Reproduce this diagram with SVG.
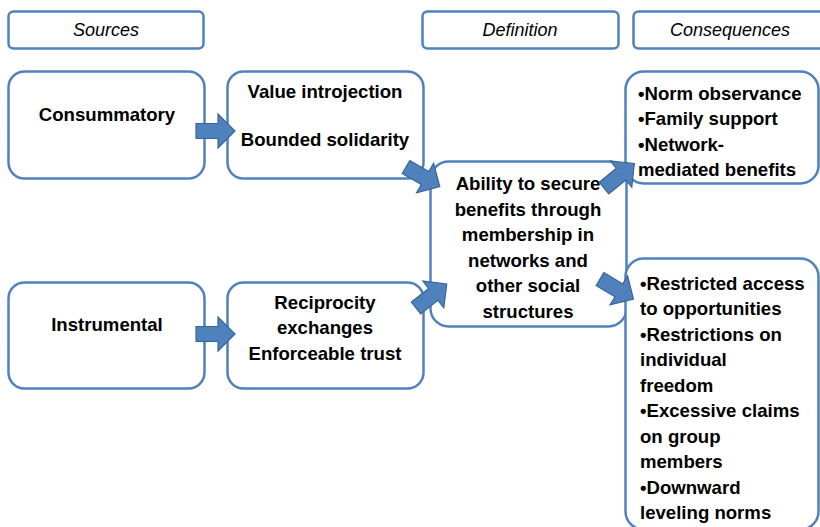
<svg xmlns="http://www.w3.org/2000/svg" width="820" height="527" viewBox="0 0 820 527">
<style>
.box{fill:#fff;stroke:#4f81bd;stroke-width:2.5}
.t{font-family:"Liberation Sans",Arial,sans-serif;font-size:18.6px;font-weight:bold;fill:#000}
.h{font-family:"Liberation Sans",Arial,sans-serif;font-size:18px;font-style:italic;fill:#000}
.arr{fill:#4f81bd;stroke:#3a659a;stroke-width:1.2}
</style>
<defs>
<path id="ba" d="M0,-7.5 L22,-7.5 L22,-17 L39,0 L22,17 L22,7.5 L0,7.5 Z"/>
</defs>
<g id="hdr-sources"><rect class="box" x="8.5" y="11.5" width="195" height="37" rx="5"/><text class="h" x="106" y="36" text-anchor="middle">Sources</text></g>
<g id="hdr-definition"><rect class="box" x="422.5" y="11.5" width="196" height="37" rx="5"/><text class="h" x="520" y="36" text-anchor="middle">Definition</text></g>
<g id="hdr-consequences"><rect class="box" x="633.5" y="11.5" width="200" height="37" rx="5"/><text class="h" x="730" y="36" text-anchor="middle">Consequences</text></g>
<g id="consummatory"><rect class="box" x="8.5" y="71.5" width="196" height="107" rx="16"/><text class="t" x="107" y="121" text-anchor="middle">Consummatory</text></g>
<g id="value"><rect class="box" x="227.5" y="71.5" width="196" height="107" rx="16"/><text class="t" x="325" y="98" text-anchor="middle">Value introjection</text><text class="t" x="325" y="146" text-anchor="middle">Bounded solidarity</text></g>
<g id="instrumental"><rect class="box" x="8.5" y="282.5" width="196" height="106" rx="16"/><text class="t" x="107" y="331" text-anchor="middle">Instrumental</text></g>
<g id="reciprocity"><rect class="box" x="227.5" y="282.5" width="196" height="106" rx="16"/><text class="t" x="325" y="309" text-anchor="middle">Reciprocity</text><text class="t" x="325" y="334" text-anchor="middle">exchanges</text><text class="t" x="325" y="360" text-anchor="middle">Enforceable trust</text></g>
<g id="definition"><rect class="box" x="430.5" y="161.5" width="196" height="165" rx="18"/>
<text class="t" x="528" text-anchor="middle"><tspan x="528" y="190">Ability to secure</tspan><tspan x="528" y="216">benefits through</tspan><tspan x="528" y="241">membership in</tspan><tspan x="528" y="267">networks and</tspan><tspan x="528" y="292">other social</tspan><tspan x="528" y="318">structures</tspan></text></g>
<g id="positive"><rect class="box" x="625.5" y="71.5" width="193" height="112" rx="18"/>
<text class="t"><tspan x="638" y="100">•Norm observance</tspan><tspan x="638" y="125">•Family support</tspan><tspan x="638" y="151">•Network-</tspan><tspan x="638" y="176">mediated benefits</tspan></text></g>
<g id="negative"><rect class="box" x="625.5" y="258.5" width="193" height="271" rx="18"/>
<text class="t"><tspan x="640" y="290">•Restricted access</tspan><tspan x="640" y="315">to opportunities</tspan><tspan x="640" y="341">•Restrictions on</tspan><tspan x="640" y="366">individual</tspan><tspan x="640" y="392">freedom</tspan><tspan x="640" y="417">•Excessive claims</tspan><tspan x="640" y="443">on group</tspan><tspan x="640" y="468">members</tspan><tspan x="640" y="494">•Downward</tspan><tspan x="640" y="519">leveling norms</tspan></text></g>
<g id="connectors">
<use href="#ba" class="arr" transform="translate(196,131)"/>
<use href="#ba" class="arr" transform="translate(196,334)"/>
<use href="#ba" class="arr" transform="translate(406,167) rotate(30)"/>
<use href="#ba" class="arr" transform="translate(416,308) rotate(-38)"/>
<use href="#ba" class="arr" transform="translate(604,188) rotate(-39)"/>
<use href="#ba" class="arr" transform="translate(600,279) rotate(31)"/>
</g>
</svg>
